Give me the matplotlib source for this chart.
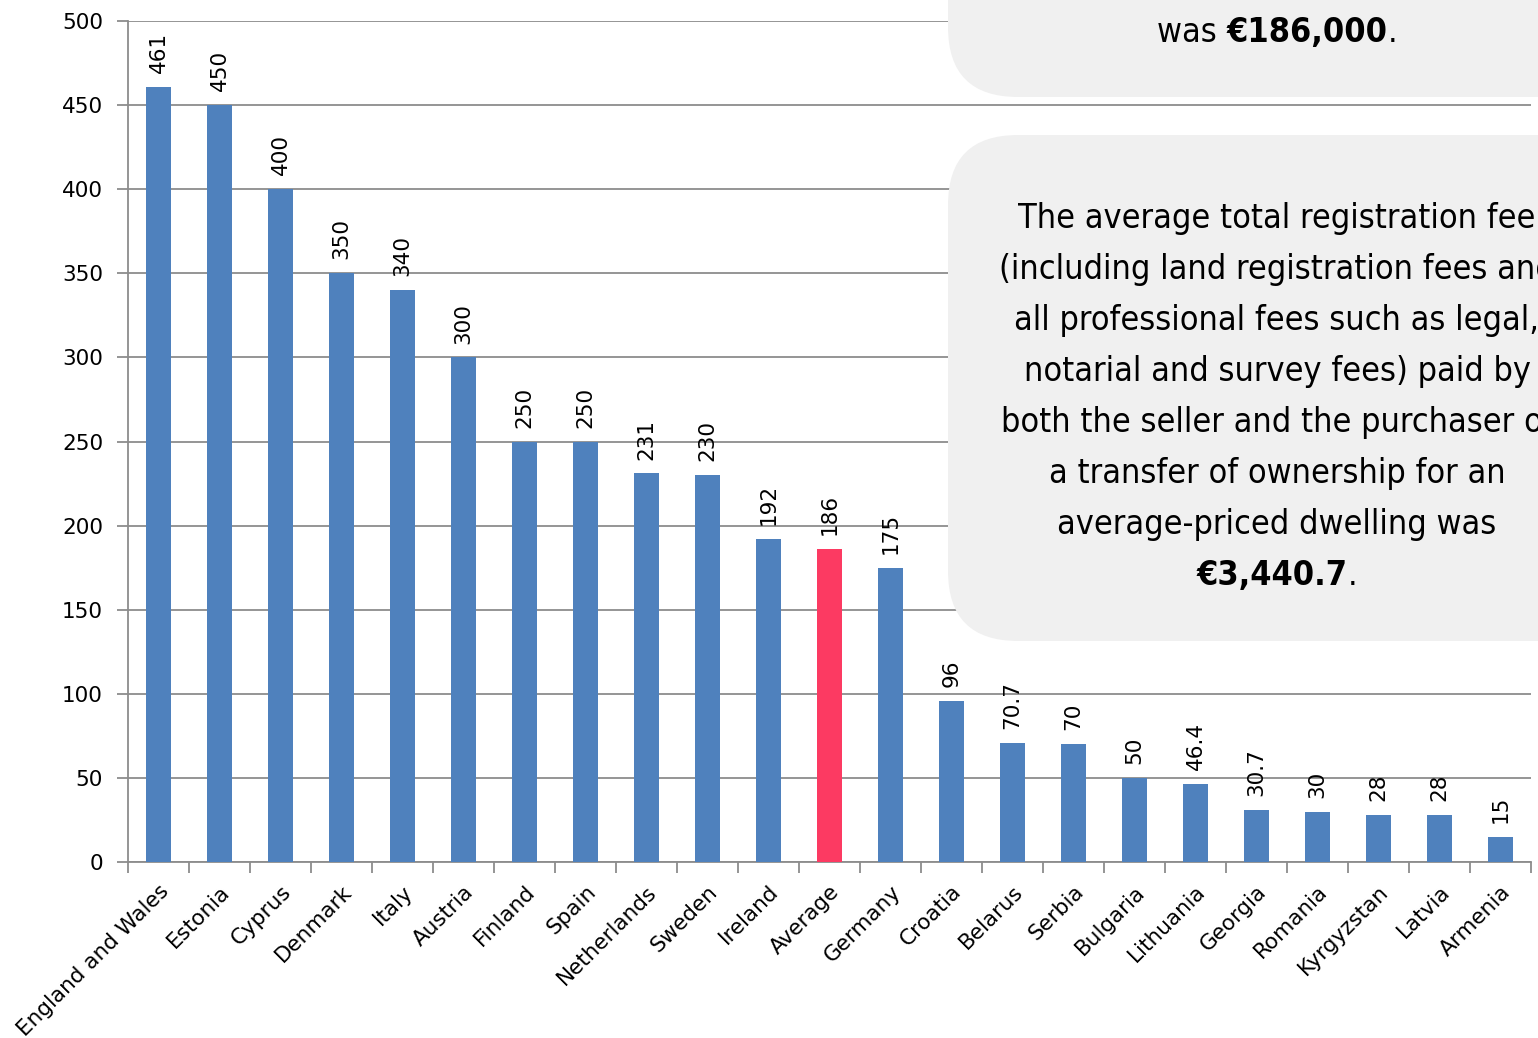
import matplotlib
matplotlib.use('Agg')
import matplotlib.pyplot as plt
from matplotlib import font_manager
from matplotlib.patches import FancyBboxPatch

# --- data ---
countries = ['England and Wales', 'Estonia', 'Cyprus', 'Denmark', 'Italy', 'Austria',
             'Finland', 'Spain', 'Netherlands', 'Sweden', 'Ireland', 'Average',
             'Germany', 'Croatia', 'Belarus', 'Serbia', 'Bulgaria', 'Lithuania',
             'Georgia', 'Romania', 'Kyrgyzstan', 'Latvia', 'Armenia']
values = [461, 450, 400, 350, 340, 300, 250, 250, 231, 230, 192, 186,
          175, 96, 70.7, 70, 50, 46.4, 30.7, 30, 28, 28, 15]
value_labels = ['461', '450', '400', '350', '340', '300', '250', '250', '231', '230',
                '192', '186', '175', '96', '70.7', '70', '50', '46.4', '30.7', '30',
                '28', '28', '15']
yticks = [0, 50, 100, 150, 200, 250, 300, 350, 400, 450, 500]

box_lines = ['The average total registration fee',
             '(including land registration fees and',
             'all professional fees such as legal,',
             'notarial and survey fees) paid by',
             'both the seller and the purchaser of',
             'a transfer of ownership for an',
             'average-priced dwelling was']
box_bold = '€3,440.7'
top_regular = 'was '
top_bold = '€186,000'

blue = '#4F81BD'
red = '#FC3A62'
grid_col = '#8C8C8C'

# condensed font for the call-out boxes
names = {f.name for f in font_manager.fontManager.ttflist}
if 'Liberation Sans Narrow' in names:
    box_font = dict(family='Liberation Sans Narrow')
    box_size = 33
else:
    box_font = dict(family='DejaVu Sans', stretch='condensed')
    box_size = 24.5

W, H = 1538, 1038
fig = plt.figure(figsize=(W / 100, H / 100), dpi=100)
ax = fig.add_axes([128 / W, 1 - 862 / H, (1531 - 128) / W, (862 - 21) / H])

x = list(range(len(countries)))
colors = [red if c == 'Average' else blue for c in countries]
ax.bar(x, values, width=0.4, color=colors, zorder=3)

for xi, v, lab in zip(x, values, value_labels):
    ax.annotate(lab, (xi, v), xytext=(0, 10), textcoords='offset points',
                rotation=90, ha='center', va='bottom', fontsize=15.5)

ax.set_xlim(-0.5, len(countries) - 0.5)
ax.set_ylim(0, 500)
ax.set_yticks(yticks)
ax.set_yticklabels([str(t) for t in yticks], fontsize=15.5)
ax.yaxis.grid(True, color=grid_col, lw=1.3, zorder=0)

ax.set_xticks([i - 0.5 for i in range(len(countries) + 1)])
ax.set_xticklabels([])
ax.set_xticks(x, minor=True)
ax.set_xticklabels(countries, minor=True, rotation=45, ha='right',
                   rotation_mode='anchor', fontsize=15.5)
ax.tick_params(axis='x', which='minor', length=0, pad=14)
ax.tick_params(axis='x', which='major', length=8, width=1.3, color=grid_col)
ax.tick_params(axis='y', length=8, width=1.3, color=grid_col, pad=10)

for s in ['top', 'right']:
    ax.spines[s].set_visible(False)
for s in ['left', 'bottom']:
    ax.spines[s].set_color(grid_col)
    ax.spines[s].set_linewidth(1.3)

# overlay in pixel coordinates for the call-out boxes
ov = fig.add_axes([0, 0, 1, 1], zorder=5)
ov.set_xlim(0, W)
ov.set_ylim(H, 0)
ov.axis('off')

box_style = dict(boxstyle='round,pad=0,rounding_size=70', facecolor='#F0F0F0',
                 edgecolor='none')
ov.add_patch(FancyBboxPatch((948, -200), 800, 297, **box_style))
ov.add_patch(FancyBboxPatch((948, 135), 800, 506, **box_style))

cx = 1277
for i, line in enumerate(box_lines):
    ov.text(cx, 228 + 51 * i, line, ha='center', va='baseline',
            fontsize=box_size, **box_font)

fig.canvas.draw()
r = fig.canvas.get_renderer()


def mixed(y, parts):
    # parts: list of (text, weight); centred on cx
    arts = [ov.text(0, y, t, ha='left', va='baseline', fontsize=box_size,
                    fontweight=w, **box_font) for t, w in parts]
    widths = [a.get_window_extent(r).width for a in arts]
    total = sum(widths)
    x0 = cx - total / 2
    for a, w in zip(arts, widths):
        a.set_x(x0)
        x0 += w


mixed(228 + 51 * 7, [(box_bold, 'bold'), ('.', 'normal')])
mixed(42, [(top_regular, 'normal'), (top_bold, 'bold'), ('.', 'normal')])

fig.savefig('out.png', dpi=100)
